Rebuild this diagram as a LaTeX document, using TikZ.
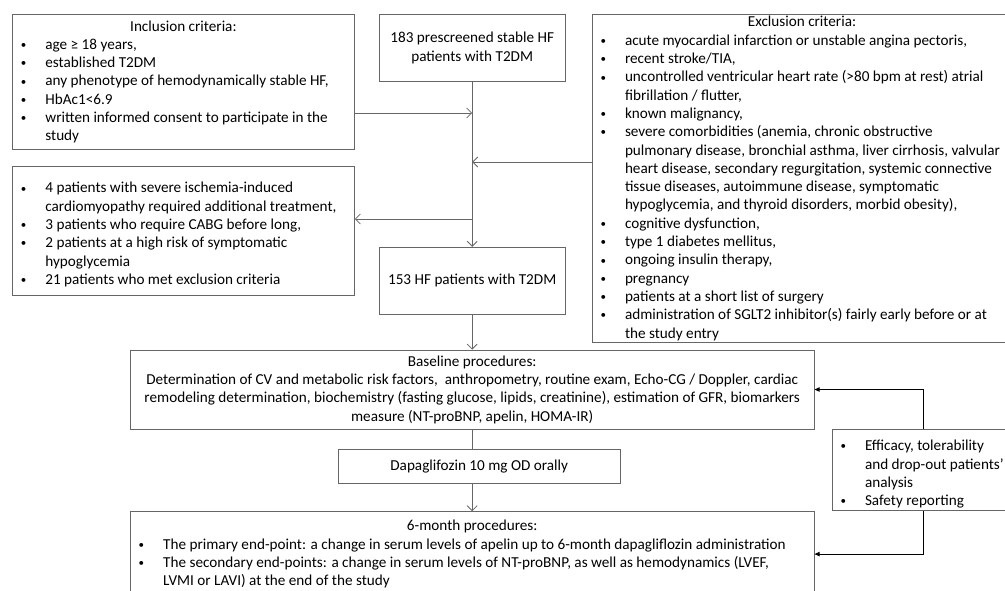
\documentclass[tikz,border=0pt]{standalone}
\usepackage{fontspec}
\setmainfont{Carlito}
\usetikzlibrary{positioning,arrows.meta}
\newcommand{\bul}{\par\noindent\hangindent=27pt\hangafter=1\makebox[27pt][l]{\hspace{2.5pt}\raisebox{0.8pt}{\fontsize{11}{11}\selectfont\textbullet}}}
\newcommand{\ttl}[2][0pt]{{\centering\hspace*{#1}#2\par}}
\begin{document}
\begin{tikzpicture}[x=1pt, y=1pt, node distance=16pt,
  box/.style={draw=black!60, line width=0.8pt, inner xsep=6pt, inner ysep=0pt, align=flush left, font=\fontsize{15.2}{18.3}\selectfont},
  flow/.style={draw=black!60, line width=0.8pt, -{Straight Barb[length=5pt,width=10pt]}},
  back/.style={draw=black, line width=0.9pt, -{Triangle[length=5pt,width=4.5pt]}}]
\clip (0,0) rectangle (1005,-590);
\node[box, minimum width=342pt, minimum height=135pt, text width=330pt, anchor=north west] (incl) at (12,-14) {\ttl{Inclusion criteria:}\bul age ≥ 18 years,\bul established T2DM\bul any phenotype of hemodynamically stable HF,\bul HbAc1<6.9\bul written informed consent to participate in the\newline study\par};
\node[box, minimum width=186pt, minimum height=67pt, align=center] (pre) [right=24pt of incl.north east, anchor=north west] {183 prescreened stable HF\\ patients with T2DM};
\node[box, minimum width=440pt, minimum height=328pt, text width=428pt] (excl) [right=26pt of pre.north east, anchor=north west] {\ttl[-20pt]{Exclusion criteria:}\bul acute myocardial infarction or unstable angina pectoris,\bul recent stroke/TIA,\bul uncontrolled ventricular heart rate (>80 bpm at rest) atrial\newline fibrillation / flutter,\bul known malignancy,\bul severe comorbidities (anemia, chronic obstructive\newline pulmonary disease, bronchial asthma, liver cirrhosis, valvular\newline heart disease, secondary regurgitation, systemic connective\newline tissue diseases, autoimmune disease, symptomatic\newline hypoglycemia, and thyroid disorders, morbid obesity),\bul cognitive dysfunction,\bul type 1 diabetes mellitus,\bul ongoing insulin therapy,\bul pregnancy\bul patients at a short list of surgery\bul administration of SGLT2 inhibitor(s) fairly early before or at\newline the study entry\par};
\node[box, minimum width=342pt, minimum height=129pt, text width=330pt] (out) [below=16pt of incl.south west, anchor=north west] {\bul 4 patients with severe ischemia-induced\newline cardiomyopathy required additional treatment,\bul 3 patients who require CABG before long,\bul 2 patients at a high risk of symptomatic\newline hypoglycemia\bul 21 patients who met exclusion criteria\par};
\node[box, minimum width=186pt, minimum height=67pt, align=center] (hf) [below=165pt of pre] {153 HF patients with T2DM};
\node[box, minimum width=684pt, minimum height=79pt, align=center] (base) [below=35pt of hf] {Baseline procedures:\\ Determination of CV and metabolic risk factors,\ \ anthropometry, routine exam, Echo-CG / Doppler, cardiac\\ remodeling determination, biochemistry (fasting glucose, lipids, creatinine), estimation of GFR, biomarkers\\ measure (NT-proBNP, apelin, HOMA-IR)};
\node[box, minimum width=282pt, minimum height=34pt, align=center] (dapa) [below=20pt of base, xshift=7pt] {Dapaglifozin 10 mg OD orally};
\node[box, minimum width=684pt, minimum height=85pt, text width=672pt] (six) [below=27pt of dapa, xshift=-7pt] {\ttl{6-month procedures:}\bul The primary end-point: a change in serum levels of apelin up to 6-month dapagliflozin administration\bul The secondary end-points: a change in serum levels of NT-proBNP, as well as hemodynamics (LVEF,\newline LVMI or LAVI) at the end of the study\par};
\node[box, minimum width=200pt, minimum height=81pt, text width=188pt] (safe) [right=17pt of base.south east, anchor=north west] {\bul Efficacy, tolerability\newline and drop-out patients’\newline analysis\bul Safety reporting\par};
\coordinate (j1) at (pre.south |- 0,-113);
\coordinate (j2) at (pre.south |- 0,-162);
\coordinate (j3) at (pre.south |- 0,-219);
\coordinate (k1) at ([xshift=92pt]safe.north west);
\coordinate (k2) at ([xshift=92pt]safe.south west);
\draw[flow] (incl.east |- j1) -- (j1);
\draw[flow] (excl.west |- j2) -- (j2);
\draw[flow] (j3) -- (out.east |- j3);
\draw[flow] (pre) -- (hf);
\draw[flow] (hf) -- (base);
\draw[flow, -] (base.south) -- (base.south |- dapa.north);
\draw[flow] (dapa.south -| base.south) -- (six);
\draw[back] (k1) |- (base.east);
\draw[back] (k2) |- (six.east);
\end{tikzpicture}
\end{document}
